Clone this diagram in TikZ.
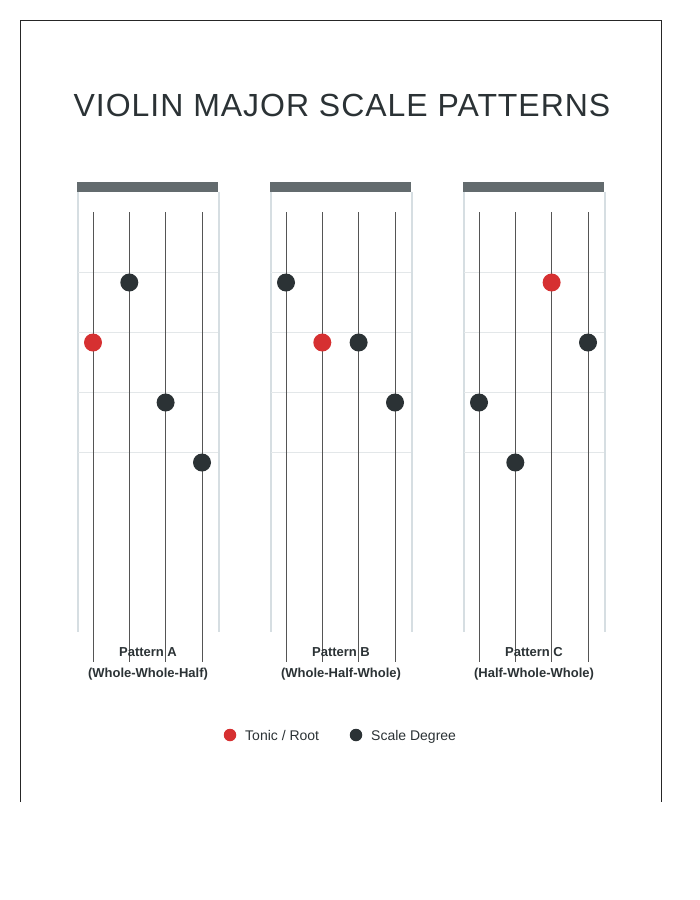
\documentclass[tikz,border=0pt]{standalone}
\usepackage{fontspec}
\setmainfont{Liberation Sans}
\newfontfamily\titlefont[LetterSpace=3]{Liberation Sans}
\definecolor{ink}{HTML}{2B3235}
\definecolor{tonic}{HTML}{D63031}
\definecolor{barc}{HTML}{636B6E}
\definecolor{sidec}{HTML}{D6DEE2}
\definecolor{fretc}{HTML}{E3E7E9}
\definecolor{stringc}{HTML}{555555}
\tikzset{
  x=1pt, y=-1pt,
  bar/.style={fill=barc, draw=none},
  side/.style={draw=sidec, line width=2pt},
  fret/.style={draw=fretc, line width=1pt},
  vstring/.style={draw=stringc, line width=0.9pt},
  dotdeg/.style={circle, fill=ink, minimum size=18pt, inner sep=0pt},
  dottonic/.style={circle, fill=tonic, minimum size=18pt, inner sep=0pt},
  plabel/.style={font=\fontsize{13}{16}\selectfont\bfseries, text=ink, align=center},
  legdot/.style={circle, minimum size=12.5pt, inner sep=0pt},
  legtext/.style={font=\fontsize{14}{16}\selectfont, text=ink, anchor=base west, inner sep=0pt},
}
\begin{document}
\begin{tikzpicture}
\useasboundingbox (0,0) rectangle (700,900);
% outer frame (open at bottom)
\draw[line width=1pt, draw=black!85] (20,802) -- (20,20.5) -- (661,20.5) -- (661,802);
% title
\node[anchor=base, inner sep=0pt, text=ink, font=\titlefont\fontsize{32}{35}\selectfont] (title) at (342,116.5) {VIOLIN MAJOR SCALE PATTERNS};

% fretboards
\foreach \n/\L in {A/77, B/270, C/463} {
  \fill[bar] (\L,182) rectangle ++(141,10);
  \draw[side] (\L+0.5,192) -- (\L+0.5,632);
  \draw[side] (\L+141.5,192) -- (\L+141.5,632);
  \foreach \fy in {272,332,392,452} \draw[fret] (\L+1,\fy) -- (\L+141,\fy);
  \foreach \k/\sx in {1/16, 2/52.3, 3/88.6, 4/125} {
    \coordinate (\n s\k top) at (\L+\sx,212);
    \coordinate (\n s\k bot) at (\L+\sx,662);
    \draw[vstring] (\n s\k top) -- (\n s\k bot);
  }
}

% dots pattern A
\node[dotdeg]   (A1) at (129.3,282.5) {};
\node[dottonic] (A2) at (93,342.5) {};
\node[dotdeg]   (A3) at (165.6,402.5) {};
\node[dotdeg]   (A4) at (202,462.5) {};
% dots pattern B
\node[dotdeg]   (B1) at (286,282.5) {};
\node[dottonic] (B2) at (322.3,342.5) {};
\node[dotdeg]   (B3) at (358.6,342.5) {};
\node[dotdeg]   (B4) at (395,402.5) {};
% dots pattern C
\node[dottonic] (C1) at (551.6,282.5) {};
\node[dotdeg]   (C2) at (588,342.5) {};
\node[dotdeg]   (C3) at (479,402.5) {};
\node[dotdeg]   (C4) at (515.3,462.5) {};

% pattern labels
\node[plabel, anchor=base] (LA1) at (148,656) {Pattern A};
\node[plabel, anchor=base] (LA2) at (148,677) {(Whole-Whole-Half)};
\node[plabel, anchor=base] (LB1) at (341,656) {Pattern B};
\node[plabel, anchor=base] (LB2) at (341,677) {(Whole-Half-Whole)};
\node[plabel, anchor=base] (LC1) at (534,656) {Pattern C};
\node[plabel, anchor=base] (LC2) at (534,677) {(Half-Whole-Whole)};

% legend
\node[legdot, fill=tonic] (legT) at (230,735) {};
\node[legtext] (legTt) at (245,740) {Tonic / Root};
\node[legdot, fill=ink] (legS) at (356,735) {};
\node[legtext] (legSt) at (371,740) {Scale Degree};
\end{tikzpicture}
\end{document}
